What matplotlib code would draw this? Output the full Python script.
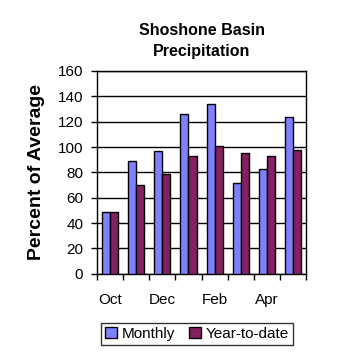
import matplotlib

matplotlib.use("Agg")

import matplotlib.pyplot as plt
import numpy as np

plt.rcParams["font.family"] = ["Liberation Sans", "DejaVu Sans"]

months = ["Oct", "Nov", "Dec", "Jan", "Feb", "Mar", "Apr", "May"]
monthly = [49, 89, 97, 126, 134, 72, 83, 124]
year_to_date = [49, 70, 79, 93, 101, 95, 93, 98]
y_ticks = [0, 20, 40, 60, 80, 100, 120, 140, 160]

MONTHLY_COLOR = "#8080ff"
YTD_COLOR = "#832161"

fig = plt.figure(figsize=(3.58, 3.58), dpi=100)
ax = fig.add_axes([0.271, 0.235, 0.584, 0.567])

x = np.arange(len(months))
width = 0.31
ax.bar(x - width / 2, monthly, width, color=MONTHLY_COLOR, edgecolor="black",
       linewidth=1.0, label="Monthly", zorder=3)
ax.bar(x + width / 2, year_to_date, width, color=YTD_COLOR, edgecolor="black",
       linewidth=1.0, label="Year-to-date", zorder=3)

ax.set_xlim(-0.5, len(months) - 0.5)
ax.set_ylim(0, 160)
ax.set_yticks(y_ticks)
ax.tick_params(axis="y", labelsize=11, length=4, width=1, direction="out", pad=6)
ax.yaxis.grid(True, color="black", linewidth=1.0, zorder=0)
ax.set_axisbelow(True)

ax.set_xticks(np.arange(len(months) + 1) - 0.5)
ax.set_xticklabels([])
ax.set_xticks(x[::2], labels=months[::2], minor=True)
ax.tick_params(axis="x", which="major", length=4, width=1, direction="out")
ax.tick_params(axis="x", which="minor", length=0, labelsize=11, pad=14)

for spine in ax.spines.values():
    spine.set_linewidth(1.0)

ax.set_title("Shoshone Basin\nPrecipitation", fontsize=11.5, fontweight="bold", pad=11,
             linespacing=1.45)
ax.set_ylabel("Percent of Average", fontsize=14, fontweight="bold", labelpad=9)

fig.legend(loc="center", bbox_to_anchor=(0.55, 0.068), ncol=2, fontsize=11,
           frameon=True, fancybox=False, edgecolor="black", handlelength=0.8,
           handleheight=0.8, handletextpad=0.3, columnspacing=0.9,
           borderpad=0.25, borderaxespad=0)
fig.legends[0].get_frame().set_linewidth(1.0)

fig.savefig("out.png", dpi=100)
